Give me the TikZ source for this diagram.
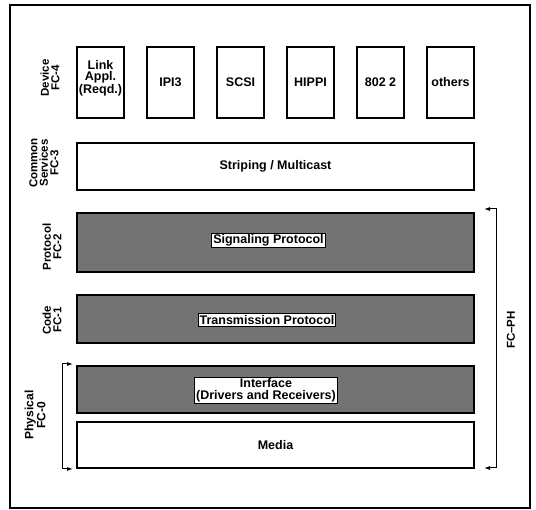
\documentclass[tikz,border=0pt]{standalone}
\usepackage{fontspec}
\setmainfont{Liberation Sans}
\usetikzlibrary{arrows.meta}
\begin{document}
\begin{tikzpicture}[x=1pt,y=-1pt,
  every node/.style={font=\fontsize{12.5}{11.5}\selectfont\bfseries},
  dev/.style={draw,line width=1.2pt,minimum width=47pt,minimum height=71pt,inner sep=0pt,align=center},
  layer/.style={draw,line width=1.3pt,minimum width=397pt,inner sep=0pt},
  shaded/.style={layer,fill={rgb,255:red,115;green,115;blue,115}},
  tag/.style={draw,line width=0.9pt,fill=white,inner sep=1.5pt,align=center},
  side/.style={rotate=90,align=center,inner sep=0pt,font=\fontsize{11.5}{10.5}\selectfont\bfseries},
  brk/.style={line width=1pt,-{Latex[length=6pt,width=4pt]}}
]
\useasboundingbox (0,0) rectangle (536,510);
\node[draw,line width=1.6pt,minimum width=520pt,minimum height=503pt,inner sep=0pt] (frame) at (270,256.5) {};

% FC-4 devices
\node[dev] (link) at (100.5,82.5) {Link\\Appl.\\(Reqd.)\\[-4pt]\strut};
\node[dev] (ipi) at (170.5,82.5) {IPI3};
\node[dev] (scsi) at (240.5,82.5) {SCSI};
\node[dev] (hippi) at (310.5,82.5) {HIPPI};
\node[dev] (ieee) at (380.5,82.5) {802 2};
\node[dev] (oth) at (450.5,82.5) {others};

% layers
\node[layer,minimum height=47pt] (strip) at (275.5,166.5) {Striping / Multicast};
\node[shaded,minimum height=59pt] (sig) at (275.5,242.5) {};
\node[shaded,minimum height=48pt] (trans) at (275.5,319) {};
\node[shaded,minimum height=47pt] (intf) at (275.5,389.5) {};
\node[layer,minimum height=46pt] (media) at (275.5,445) {Media};

\node[tag] (sigt) at (268.5,240.5) {Signaling Protocol};
\node[tag] (transt) at (267,320) {Transmission Protocol};
\node[tag] (intft) at (266,390.5) {Interface\\(Drivers and Receivers)};

% side labels
\node[side] (l4) at (50,78) {Device\\FC-4};
\node[side] (l3) at (44,163) {Common\\Services\\FC-3};
\node[side] (l2) at (52,247) {Protocol\\FC-2};
\node[side] (l1) at (52,320) {Code\\FC-1};
\node[side,font=\fontsize{12}{12}\selectfont\bfseries] (l0) at (35,415) {Physical\\FC-0};
\node[side] (lph) at (511,330) {FC--PH};

% brackets
\coordinate (p0) at (62,364);
\coordinate (p1) at (62,469);
\draw[brk] (p1) -- (p0) -- (73,364);
\draw[brk] (p0) -- (p1) -- (73,469);
\coordinate (q0) at (496,209);
\coordinate (q1) at (496,468);
\draw[brk] (q1) -- (q0) -- (484,209);
\draw[brk] (q0) -- (q1) -- (484,468);
\end{tikzpicture}
\end{document}
